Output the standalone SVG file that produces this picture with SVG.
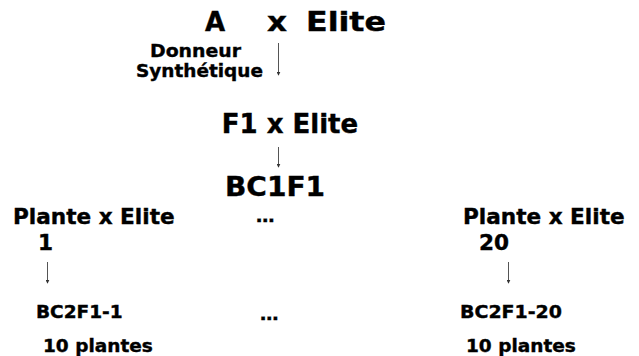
<svg xmlns="http://www.w3.org/2000/svg" width="639" height="356" viewBox="0 0 639 356">
  <style>
    text { font-family: "DejaVu Sans", Verdana, sans-serif; font-weight: bold; fill: #000; stroke: #000; stroke-width: 0.4px; }
    .big { font-size: 26px; }
    .mid { font-size: 21.6px; }
    .small { font-size: 18.5px; }
    .arrow { stroke: #555; stroke-width: 1; fill: none; marker-end: url(#head); }
  </style>
  <defs>
    <marker id="head" viewBox="0 0 6 6" refX="5" refY="3" markerWidth="4" markerHeight="4" orient="auto" markerUnits="userSpaceOnUse">
      <path d="M0,0 L6,3 L0,6 z" fill="#333"/>
    </marker>
  </defs>
  <rect width="639" height="356" fill="#fff"/>

  <!-- first cross: synthetic donor by elite -->
  <g id="cross-a">
    <text class="big" y="31"><tspan x="205">A</tspan><tspan x="267" textLength="20" lengthAdjust="spacingAndGlyphs">x</tspan><tspan x="306" textLength="80" lengthAdjust="spacingAndGlyphs">Elite</tspan></text>
  </g>
  <g id="donneur">
    <text class="small" x="150" y="57" font-size="19" textLength="91" lengthAdjust="spacingAndGlyphs">Donneur</text>
    <text class="small" x="136" y="77" font-size="19" textLength="127" lengthAdjust="spacingAndGlyphs">Synthétique</text>
  </g>
  <g id="cross-f1">
    <text class="big" x="290" y="133" text-anchor="middle">F1 x Elite</text>
  </g>
  <g id="bc1f1">
    <text class="big" x="225" y="196" font-size="28.5" textLength="100" lengthAdjust="spacingAndGlyphs">BC1F1</text>
  </g>
  <g id="cross-plante-1">
    <text class="mid" x="13" y="224">Plante x Elite</text>
    <text class="mid" x="38" y="250">1</text>
  </g>
  <g id="ellipsis-top">
    <text class="small" x="256" y="222" font-size="21">…</text>
  </g>
  <g id="cross-plante-20">
    <text class="mid" x="463" y="224">Plante x Elite</text>
    <text class="mid" x="479" y="250">20</text>
  </g>
  <g id="bc2f1-1">
    <text class="small" x="36" y="318">BC2F1-1</text>
    <text class="small" x="43" y="352">10 plantes</text>
  </g>
  <g id="ellipsis-bottom">
    <text class="small" x="260" y="320">…</text>
  </g>
  <g id="bc2f1-20">
    <text class="small" x="460" y="318" textLength="102" lengthAdjust="spacingAndGlyphs">BC2F1-20</text>
    <text class="small" x="466" y="352">10 plantes</text>
  </g>

  <g id="connectors">
    <line class="arrow" x1="278.5" y1="43" x2="278.5" y2="75"/>
    <line class="arrow" x1="278.5" y1="147" x2="278.5" y2="167"/>
    <line class="arrow" x1="47.5" y1="262" x2="47.5" y2="283"/>
    <line class="arrow" x1="508.5" y1="262" x2="508.5" y2="283"/>
  </g>
</svg>
